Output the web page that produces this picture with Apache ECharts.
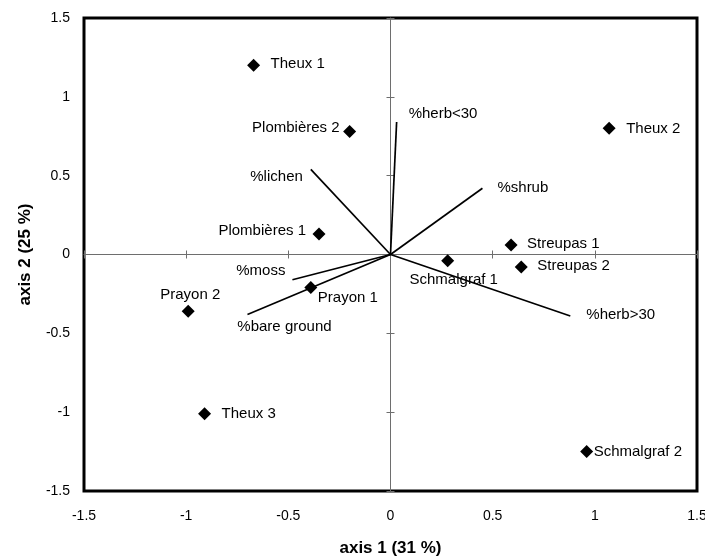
<!DOCTYPE html>
<html>
<head>
<meta charset="utf-8">
<script src="https://cdn.jsdelivr.net/npm/echarts@6/dist/echarts.min.js"></script>
<style>html,body{margin:0;padding:0;background:#fff}#c{width:705px;height:557px}</style>
</head>
<body>
<div id="c"></div>
<script>
// ---- data ----
const siteNames = ['Theux 1','Theux 2','Theux 3','Plombières 1','Plombières 2','Prayon 1','Prayon 2','Streupas 1','Streupas 2','Schmalgraf 1','Schmalgraf 2'];
const siteAxis1 = [-0.67, 1.07, -0.91, -0.35, -0.20, -0.39, -0.99, 0.59, 0.64, 0.28, 0.96];
const siteAxis2 = [1.20, 0.80, -1.01, 0.13, 0.78, -0.21, -0.36, 0.06, -0.08, -0.04, -1.25];
const varNames = ['%herb<30','%shrub','%herb>30','%lichen','%moss','%bare ground'];
const varAxis1 = [0.03, 0.45, 0.88, -0.39, -0.48, -0.70];
const varAxis2 = [0.84, 0.42, -0.39, 0.54, -0.16, -0.38];
const xTickLabels = ['-1.5','-1','-0.5','0','0.5','1','1.5'];
const yTickLabels = ['-1.5','-1','-0.5','0','0.5','1','1.5'];
const xName = 'axis 1 (31 %)';
const yName = 'axis 2 (25 %)';

// ---- label placement (style only) ----
const siteLabelStyle = {
  'Theux 1': ['left', 17, -1],
  'Theux 2': ['left', 17, 0],
  'Theux 3': ['left', 17, 0],
  'Plombières 1': ['right', -13, -3],
  'Plombières 2': ['right', -10, -4],
  'Prayon 1': ['left', 7, 10],
  'Prayon 2': ['center', 2, -16],
  'Streupas 1': ['left', 16, -1],
  'Streupas 2': ['left', 16, -1],
  'Schmalgraf 1': ['center', 6, 19],
  'Schmalgraf 2': ['left', 7, 0]
};
const varLabelStyle = {
  '%herb<30': ['left', 12, -8],
  '%shrub': ['left', 15, 0],
  '%herb>30': ['left', 16, -1],
  '%lichen': ['right', -8, 7],
  '%moss': ['right', -7, -9],
  '%bare ground': ['center', 37, 12]
};

const FONT = "'Liberation Sans', Arial, sans-serif";
function lab(style, name) {
  return {
    show: true, position: 'inside', align: style[0], verticalAlign: 'middle',
    offset: [style[1], style[2]], formatter: name, color: '#000',
    fontSize: 15, fontFamily: FONT
  };
}

const siteData = siteNames.map((n, i) => ({
  name: n, value: [siteAxis1[i], siteAxis2[i]], label: lab(siteLabelStyle[n], n)
}));
const varLabelData = varNames.map((n, i) => ({
  name: n, value: [varAxis1[i], varAxis2[i]], label: lab(varLabelStyle[n], n)
}));
const vectorSeries = varNames.map((n, i) => ({
  type: 'line', name: n, data: [[0, 0], [varAxis1[i], varAxis2[i]]],
  symbol: 'none', lineStyle: { color: '#000', width: 1.7 }, z: 3, silent: true, animation: false
}));

const base = { type: 'value', min: -1.5, max: 1.5, interval: 0.5, splitLine: { show: false } };
const innerLine = { show: true, onZero: true, onZeroAxisIndex: 0, lineStyle: { color: '#6e6e6e', width: 1 } };

const option = {
  animation: false,
  grid: { left: 84, right: 8, top: 18, bottom: 66, show: true, borderColor: '#000', borderWidth: 3,
    backgroundColor: 'transparent', outerBoundsMode: 'none', containLabel: false },
  xAxis: [
    Object.assign({}, base, {
      position: 'bottom',
      axisLine: { show: false }, axisTick: { show: false },
      axisLabel: { margin: 18, fontSize: 14, color: '#000', fontFamily: FONT,
        formatter: (v) => xTickLabels[Math.round((v + 1.5) / 0.5)] },
      name: xName, nameLocation: 'middle', nameGap: 49,
      nameTextStyle: { fontSize: 17, fontWeight: 'bold', color: '#000', fontFamily: FONT }
    }),
    Object.assign({}, base, {
      position: 'bottom', axisLine: innerLine,
      axisTick: { show: true, inside: false, length: 4, lineStyle: { color: '#6e6e6e' } },
      axisLabel: { show: false }
    }),
    Object.assign({}, base, {
      position: 'bottom', axisLine: Object.assign({}, innerLine, { lineStyle: { color: '#6e6e6e', width: 0, opacity: 0 } }),
      axisTick: { show: true, inside: true, length: 4, lineStyle: { color: '#6e6e6e' } },
      axisLabel: { show: false }
    })
  ],
  yAxis: [
    Object.assign({}, base, {
      position: 'left',
      axisLine: { show: false }, axisTick: { show: false },
      axisLabel: { margin: 14, fontSize: 14, color: '#000', fontFamily: FONT,
        formatter: (v) => yTickLabels[Math.round((v + 1.5) / 0.5)] },
      name: yName, nameLocation: 'middle', nameGap: 50, nameRotate: 90,
      nameTextStyle: { fontSize: 17, fontWeight: 'bold', color: '#000', fontFamily: FONT }
    }),
    Object.assign({}, base, {
      position: 'left', axisLine: innerLine,
      axisTick: { show: true, inside: false, length: 4, lineStyle: { color: '#6e6e6e' } },
      axisLabel: { show: false }
    }),
    Object.assign({}, base, {
      position: 'left', axisLine: Object.assign({}, innerLine, { lineStyle: { color: '#6e6e6e', width: 0, opacity: 0 } }),
      axisTick: { show: true, inside: true, length: 4, lineStyle: { color: '#6e6e6e' } },
      axisLabel: { show: false }
    })
  ],
  series: vectorSeries.concat([
    {
      type: 'scatter', name: 'varLabels', data: varLabelData,
      symbol: 'circle', symbolSize: 0, itemStyle: { color: '#000', opacity: 1 }, z: 4, silent: true
    },
    {
      type: 'scatter', name: 'sites', data: siteData,
      symbol: 'diamond', symbolSize: 13, itemStyle: { color: '#000', opacity: 1 }, z: 5, silent: true
    }
  ])
};

const chart = echarts.init(document.getElementById('c'), null, { renderer: 'canvas' });
chart.setOption(option);
</script>
</body>
</html>
